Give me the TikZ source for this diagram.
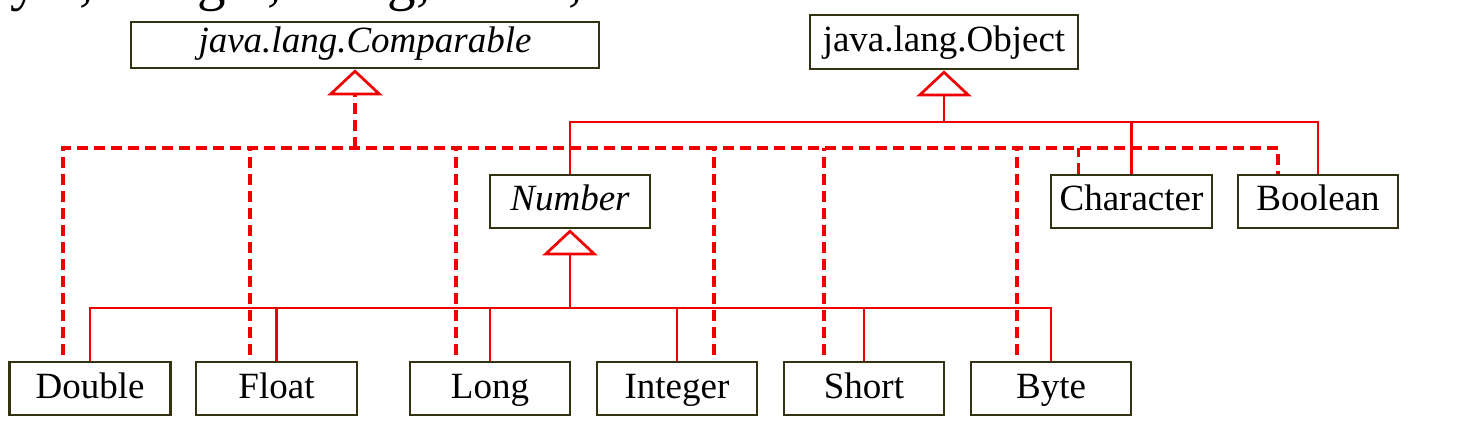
\documentclass[tikz,border=0pt]{standalone}
\usepackage{fontspec}
\setmainfont{Liberation Serif}
\usetikzlibrary{arrows.meta}
\definecolor{boxc}{RGB}{51,51,17}
\definecolor{lred}{RGB}{240,0,0}
\tikzset{
  cls/.style={draw=boxc, line width=2.8pt, fill=white, inner sep=0pt,
    minimum height=53pt, minimum width=161pt,
    text height=27pt, text depth=8pt,
    font=\fontsize{37}{40}\selectfont},
  rline/.style={draw=lred, line width=2.7pt},
  dline/.style={draw=lred, line width=3.2pt, dash pattern=on 10.5pt off 6.5pt},
  inh/.style={-{Triangle[open, width=55pt, length=26pt, line width=2.7pt]}},
}
\begin{document}
\begin{tikzpicture}[x=1pt,y=-1pt]
\useasboundingbox (0,0) rectangle (1464,435);
\begin{scope}
\clip (0,0) rectangle (1464,435);
\node[anchor=base west, inner sep=0pt, font=\fontsize{57}{60}\selectfont] (cut) at (-28,0) {Byte, Integer, Long, Short,};
\end{scope}

% nodes
\node[cls, minimum width=468pt, minimum height=46pt, text height=25pt, text depth=9pt] (cmp) at (365,45) {\itshape java.lang.Comparable};
\node[cls, minimum width=268pt, minimum height=54pt] (obj) at (944,42) {java.lang.Object};
\node[cls, minimum width=160pt] (num) at (570,201.5) {\itshape Number};
\node[cls] (chr) at (1131.5,201.5) {Character};
\node[cls, minimum width=160pt] (bool) at (1318,201.5) {Boolean};
\node[cls] (dbl) at (90,388.5) {Double};
\node[cls] (flt) at (276.5,388.5) {Float};
\node[cls, minimum width=160pt] (lng) at (490,388.5) {Long};
\node[cls, minimum width=160pt] (int) at (677,388.5) {Integer};
\node[cls, minimum width=160pt] (sht) at (864,388.5) {Short};
\node[cls, minimum width=160pt] (byt) at (1051,388.5) {Byte};

\coordinate (ob) at (944,122);
\coordinate (cb) at (355,148);
\coordinate (nb) at (570,308);

% dashed implementation lines to Comparable
\draw[dline, shorten <=6pt] ([xshift=-27pt]dbl.north) |- ([xshift=-40pt]bool.north |- cb) -- ([xshift=-40pt]bool.north);
\draw[dline, shorten <=6pt] ([xshift=-26.5pt]flt.north) -- ([xshift=-26.5pt]flt.north |- cb);
\draw[dline, shorten <=6pt] ([xshift=-34pt]lng.north) -- ([xshift=-34pt]lng.north |- cb);
\draw[dline, shorten <=6pt] ([xshift=37pt]int.north) -- ([xshift=37pt]int.north |- cb);
\draw[dline, shorten <=6pt] ([xshift=-40pt]sht.north) -- ([xshift=-40pt]sht.north |- cb);
\draw[dline, shorten <=6pt] ([xshift=-34pt]byt.north) -- ([xshift=-34pt]byt.north |- cb);
\draw[dline] ([xshift=-53pt]chr.north) -- ([xshift=-53pt]chr.north |- cb);
\draw[dline, inh] (cb) -- (cb |- cmp.south);

% Object hierarchy
\draw[rline] (num.north) |- (bool.north |- ob) -- (bool.north);
\draw[rline] (chr.north) -- (chr.north |- ob);
\draw[rline, inh] (ob) -- (obj.south);

% Number hierarchy
\draw[rline] (dbl.north) |- (byt.north |- nb) -- (byt.north);
\draw[rline] (flt.north) -- (flt.north |- nb);
\draw[rline] (lng.north) -- (lng.north |- nb);
\draw[rline] (int.north) -- (int.north |- nb);
\draw[rline] (sht.north) -- (sht.north |- nb);
\draw[rline, inh] (nb) -- (num.south);
\end{tikzpicture}
\end{document}
